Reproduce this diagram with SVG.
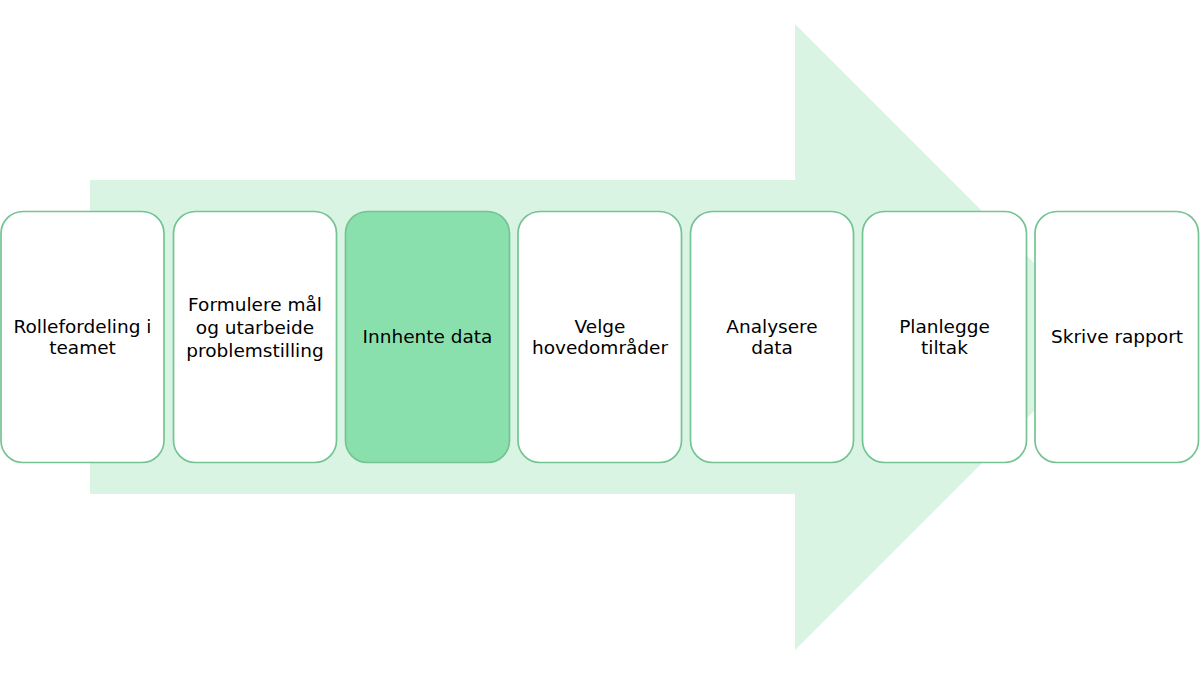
<svg xmlns="http://www.w3.org/2000/svg" width="1200" height="675" viewBox="0 0 1200 675">
<style>
.box{fill:#ffffff;stroke:#74c493;stroke-width:1.7}
.hl{fill:#8ae0ad}
text{font-family:"DejaVu Sans",Verdana,sans-serif;font-size:18.5px;fill:#000;text-anchor:middle}
</style>
<rect width="1200" height="675" fill="#ffffff"/>
<g id="arrow">
<polygon points="90,180 795,180 795,24 1108,337 795,650 795,494 90,494" fill="#d9f4e3"/>
</g>
<g id="n1"><rect class="box" x="1" y="211.5" width="163" height="251" rx="22"/><text x="82.5" y="333">Rollefordeling i</text><text x="82.5" y="354">teamet</text></g>
<g id="n2"><rect class="box" x="173.5" y="211.5" width="163" height="251" rx="22"/><text x="255" y="311">Formulere mål</text><text x="255" y="334">og utarbeide</text><text x="255" y="357">problemstilling</text></g>
<g id="n3"><rect class="box hl" x="345.5" y="211.5" width="164" height="251" rx="22"/><text x="427.5" y="343">Innhente data</text></g>
<g id="n4"><rect class="box" x="518" y="211.5" width="163.5" height="251" rx="22"/><text x="600" y="333">Velge</text><text x="600" y="354">hovedområder</text></g>
<g id="n5"><rect class="box" x="690.5" y="211.5" width="163" height="251" rx="22"/><text x="772" y="333">Analysere</text><text x="772" y="354">data</text></g>
<g id="n6"><rect class="box" x="862.5" y="211.5" width="164" height="251" rx="22"/><text x="944.5" y="333">Planlegge</text><text x="944.5" y="354">tiltak</text></g>
<g id="n7"><rect class="box" x="1035" y="211.5" width="163.5" height="251" rx="22"/><text x="1117" y="343">Skrive rapport</text></g>
<g id="connectors"></g>
</svg>
